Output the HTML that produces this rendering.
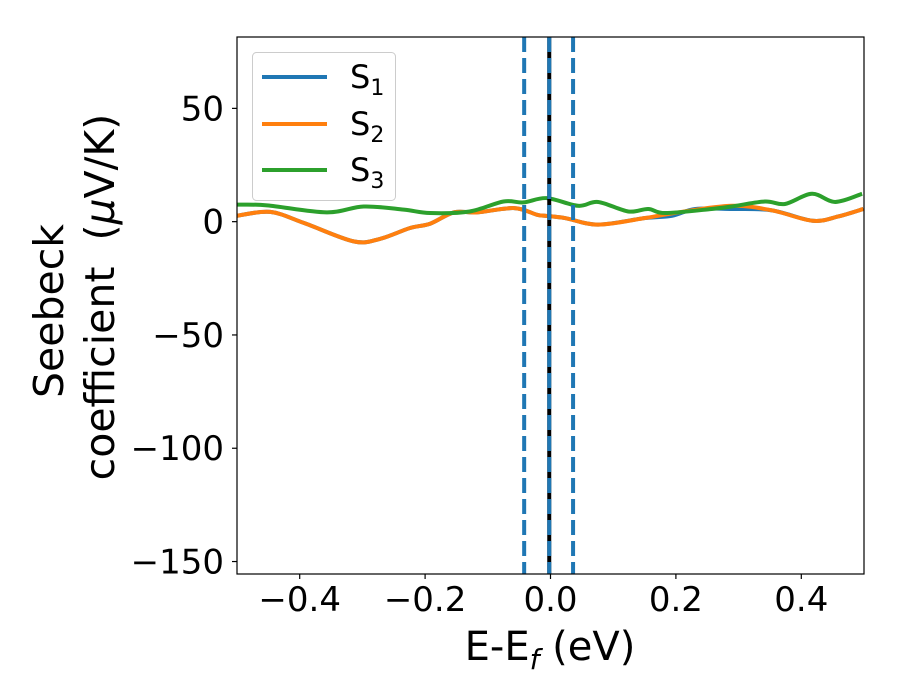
<!DOCTYPE html>
<html><head><meta charset="utf-8"><style>
body{margin:0;background:#fff}
svg{display:block;font-family:"DejaVu Sans","Liberation Sans",sans-serif}
</style></head><body>
<svg id="chart" width="900" height="700" viewBox="0 0 900 700" xmlns="http://www.w3.org/2000/svg">
<g id="plot"></g>
</svg>
<script>
const s1X=[-0.5,-0.447,-0.393,-0.314,-0.272,-0.224,-0.192,-0.154,-0.117,-0.058,-0.022,-0.009,0.023,0.076,0.151,0.194,0.231,0.289,0.353,0.418,0.459,0.499];
const s1Y=[2.6,4.3,-0.6,-8.7,-7.6,-2.8,-0.9,4.1,4.1,6.0,3.1,2.6,1.6,-1.3,1.6,2.6,5.6,5.6,5.0,0.4,2.3,5.6];
const s2X=[-0.5,-0.447,-0.393,-0.314,-0.272,-0.224,-0.192,-0.154,-0.117,-0.058,-0.022,-0.009,0.023,0.076,0.151,0.204,0.289,0.353,0.418,0.459,0.499];
const s2Y=[2.6,4.3,-0.6,-8.7,-7.6,-2.8,-0.9,4.1,4.1,6.0,3.1,2.6,1.6,-1.3,1.6,4.1,7.0,5.0,0.4,2.3,5.6];
const s3X=[-0.5,-0.452,-0.357,-0.298,-0.234,-0.192,-0.129,-0.075,-0.043,-0.006,0.044,0.076,0.124,0.156,0.183,0.257,0.289,0.342,0.374,0.417,0.454,0.497];
const s3Y=[7.5,7.2,4.1,6.7,5.3,3.8,4.5,8.9,8.5,10.4,7.0,8.7,4.5,5.6,3.8,5.6,6.7,8.9,7.8,12.3,8.7,12.3];
const vLinesDashed=[-0.042,0.036];
const vLineBlack=[-0.002];
const xTicks=[-0.4,-0.2,0.0,0.2,0.4];
const xTickLabels=["−0.4","−0.2","0.0","0.2","0.4"];
const yTicks=[50,0,-50,-100,-150];
const yTickLabels=["50","0","−50","−100","−150"];

const L=237,R=864,T=37,B=574;
const X0=-0.5,X1=0.5,Y0=-155.5,Y1=81.5;
const sx=v=>L+(v-X0)/(X1-X0)*(R-L);
const sy=v=>B-(v-Y0)/(Y1-Y0)*(B-T);
const NS="http://www.w3.org/2000/svg";
const svg=document.getElementById('chart');
function mk(tag,attrs,parent){const e=document.createElementNS(NS,tag);for(const k in attrs)e.setAttribute(k,attrs[k]);(parent||svg).appendChild(e);return e;}
function smooth(xs,ys){
  const p=xs.map((x,i)=>[sx(x),sy(ys[i])]);
  let d=`M${p[0][0]},${p[0][1]}`;
  for(let i=0;i<p.length-1;i++){
    const a=p[Math.max(0,i-1)],b=p[i],c=p[i+1],e=p[Math.min(p.length-1,i+2)];
    const c1=[b[0]+(c[0]-a[0])/6,b[1]+(c[1]-a[1])/6],c2=[c[0]-(e[0]-b[0])/6,c[1]-(e[1]-b[1])/6];
    d+=`C${c1[0]},${c1[1]} ${c2[0]},${c2[1]} ${c[0]},${c[1]}`;
  }
  return d;
}
const clip=mk('clipPath',{id:'pc'});mk('rect',{x:L,y:T,width:R-L,height:B-T},clip);
const g=mk('g',{'clip-path':'url(#pc)'});


const series=[[s1X,s1Y,'#1f77b4','series-s1'],[s2X,s2Y,'#ff7f0e','series-s2'],[s3X,s3Y,'#2ca02c','series-s3']];
series.forEach(s=>{const p=mk('path',{d:smooth(s[0],s[1]),fill:'none',stroke:s[2],'stroke-width':4},g);

});
vLineBlack.forEach(v=>{const l=mk('line',{x1:sx(v),x2:sx(v),y1:T,y2:B,stroke:'#000','stroke-width':4},g);


const l2=mk('line',{x1:sx(v),x2:sx(v),y1:T,y2:B,stroke:'#1f77b4','stroke-width':4,'stroke-dasharray':'15 6'},g);

});
vLinesDashed.forEach(v=>{const l=mk('line',{x1:sx(v),x2:sx(v),y1:T,y2:B,stroke:'#1f77b4','stroke-width':4,'stroke-dasharray':'15 6'},g);

});
const fr=mk('rect',{x:L,y:T,width:R-L,height:B-T,fill:'none',stroke:'#000','stroke-width':1.2});


xTicks.forEach((v,i)=>{mk('line',{x1:sx(v),x2:sx(v),y1:B,y2:B+5,stroke:'#000','stroke-width':1.2});
const t=mk('text',{x:sx(v),y:B+37,'font-size':34,'text-anchor':'middle'});t.textContent=xTickLabels[i];

});
yTicks.forEach((v,i)=>{mk('line',{x1:L,x2:L-5,y1:sy(v),y2:sy(v),stroke:'#000','stroke-width':1.2});
const t=mk('text',{x:L-13,y:sy(v)+12,'font-size':34,'text-anchor':'end'});t.textContent=yTickLabels[i];

});
const xl=mk('text',{x:550,y:660,'font-size':40,'text-anchor':'middle'});
xl.innerHTML='E-E<tspan font-size="28" dy="9" font-style="italic">f</tspan><tspan dy="-9"> (eV)</tspan>';


const yl=mk('text',{'font-size':41,'text-anchor':'middle'});
yl.innerHTML='<tspan x="-311" y="63">Seebeck</tspan><tspan x="-297" y="114">coefficient\u00a0\u00a0(<tspan font-style="italic">μ</tspan>V/K)</tspan>';
yl.setAttribute('transform','rotate(-90)');


const lg=mk('g',{});


mk('rect',{x:252.5,y:52.5,width:143,height:148,rx:4,fill:'#fff','fill-opacity':0.8,stroke:'#ccc','stroke-width':1},lg);
[['#1f77b4','1',77],['#ff7f0e','2',124],['#2ca02c','3',170]].forEach(e=>{
const eg=mk('g',{},lg);


mk('line',{x1:262,x2:327,y1:e[2],y2:e[2],stroke:e[0],'stroke-width':4},eg);
const t=mk('text',{x:350,y:e[2]+11,'font-size':32},eg);
t.innerHTML='S<tspan font-size="22" dy="7">'+e[1]+'</tspan>';});
</script>
</body></html>
